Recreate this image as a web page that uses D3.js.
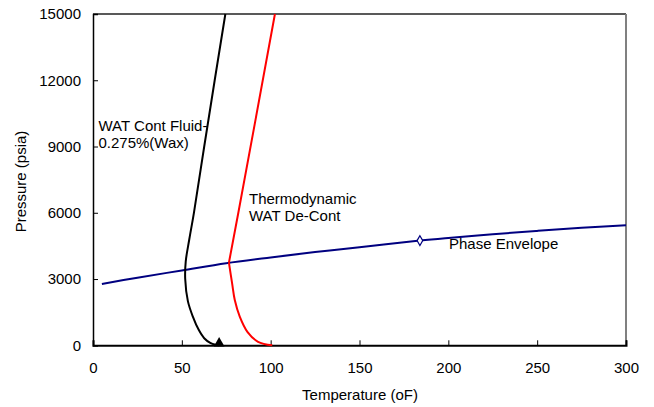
<!DOCTYPE html>
<html><head><meta charset="utf-8">
<script src="https://cdn.jsdelivr.net/npm/d3@7"></script>
<style>body{margin:0;background:#fff}text{font-family:Arial,"Liberation Sans",sans-serif}</style>
</head><body><svg id="c" width="654" height="407"></svg>
<script>
const xTicks = [0, 50, 100, 150, 200, 250, 300];
const yTicks = [0, 3000, 6000, 9000, 12000, 15000];
// WAT Cont Fluid (black)
const waxT = [74.5, 68.5, 62.6, 56.8, 54.2, 52.2, 51.9, 53.4, 56.2, 59.5, 62.6, 66.0, 69.0, 71.0];
const waxP = [15000, 12000, 9000, 6000, 4800, 3800, 3000, 2000, 1300, 700, 320, 110, 25, 0];
// Thermodynamic WAT De-Cont (red)
const thT = [102.4, 91.0, 81.8, 76.5, 78.3, 79.8, 82.6, 87.0, 92.9, 100.9];
const thP = [15000, 10000, 6000, 3740, 2800, 2050, 1300, 600, 160, 0];
// Phase Envelope (navy)
const peT = [5, 25, 50, 75, 100, 125, 150, 184, 200, 225, 250, 275, 300];
const peP = [2780, 3060, 3390, 3720, 3980, 4220, 4440, 4740, 4860, 5030, 5180, 5320, 5440];
const markerT = [184];
const markerP = [4740];
const triT = [71.0], triP = [0];

const svg = d3.select("#c");
const x = d3.scaleLinear().domain([0, 300]).range([93, 626]);
const y = d3.scaleLinear().domain([0, 15000]).range([345.3, 14]);

svg.append("line").attr("x1", 93).attr("x2", 626).attr("y1", 14).attr("y2", 14).attr("stroke", "#222").attr("stroke-width", 1.5);
svg.append("line").attr("x1", 626).attr("x2", 626).attr("y1", 14).attr("y2", 345).attr("stroke", "#808080").attr("stroke-width", 2);

const xAxis = svg.append("g").attr("transform", "translate(0,345.3)")
  .call(d3.axisBottom(x).tickValues(xTicks).tickSize(-5).tickPadding(14).tickFormat(d3.format("d")));
const yAxis = svg.append("g").attr("transform", "translate(93,0)")
  .call(d3.axisLeft(y).tickValues(yTicks).tickSize(-5).tickPadding(12).tickFormat(d3.format("d")));
[xAxis, yAxis].forEach(g => {
  g.select(".domain").attr("stroke", "#000").attr("stroke-width", 2);
  g.selectAll(".tick line").attr("stroke", "#000").attr("stroke-width", 1);
  g.selectAll(".tick text").attr("font-size", 15).attr("fill", "#000").attr("font-family", "Arial, 'Liberation Sans', sans-serif");
});
xAxis.selectAll(".tick text").attr("dy", "0.9em");
yAxis.select(".domain").attr("stroke-width", 1.5);

const line = (T, P) => d3.line().curve(d3.curveCatmullRom.alpha(0.5)).x((d, i) => x(T[i])).y((d, i) => y(P[i]))(T);

svg.append("path").attr("d", line(peT, peP)).attr("fill", "none").attr("stroke", "#000080").attr("stroke-width", 2);
svg.append("path").attr("d", line(waxT, waxP)).attr("fill", "none").attr("stroke", "#000").attr("stroke-width", 2);
svg.append("path").attr("d", d3.line().x((d, i) => x(thT[i])).y((d, i) => y(thP[i])).curve(d3.curveLinear)(thT.slice(0, 4)))
  .attr("fill", "none").attr("stroke", "#ff0000").attr("stroke-width", 2);
svg.append("path").attr("d", line(thT.slice(3), thP.slice(3))).attr("fill", "none").attr("stroke", "#ff0000").attr("stroke-width", 2);

svg.selectAll(".dia").data(markerT).enter().append("path")
  .attr("d", d3.symbol(d3.symbolDiamond, 28)())
  .attr("transform", (d, i) => `translate(${x(d)},${y(markerP[i])})`)
  .attr("fill", "#fff").attr("stroke", "#000080").attr("stroke-width", 1.2);
svg.selectAll(".tri").data(triT).enter().append("path")
  .attr("d", d3.symbol(d3.symbolTriangle, 50)())
  .attr("transform", (d, i) => `translate(${x(d)},${y(triP[i]) - 2})`)
  .attr("fill", "#000");

const lab = (tx, ty, s) => svg.append("text").attr("x", tx).attr("y", ty).attr("font-size", 15).attr("fill", "#000").text(s);
lab(98.5, 131, "WAT Cont Fluid-");
lab(98.5, 148, "0.275%(Wax)");
lab(249, 203.5, "Thermodynamic");
lab(249, 221, "WAT De-Cont");
lab(449, 248.5, "Phase Envelope");

svg.append("text").attr("x", 360).attr("y", 400).attr("text-anchor", "middle").attr("font-size", 15).text("Temperature (oF)");
svg.append("text").attr("transform", "translate(25.5,181.5) rotate(-90)").attr("text-anchor", "middle").attr("font-size", 15).text("Pressure (psia)");
</script></body></html>
